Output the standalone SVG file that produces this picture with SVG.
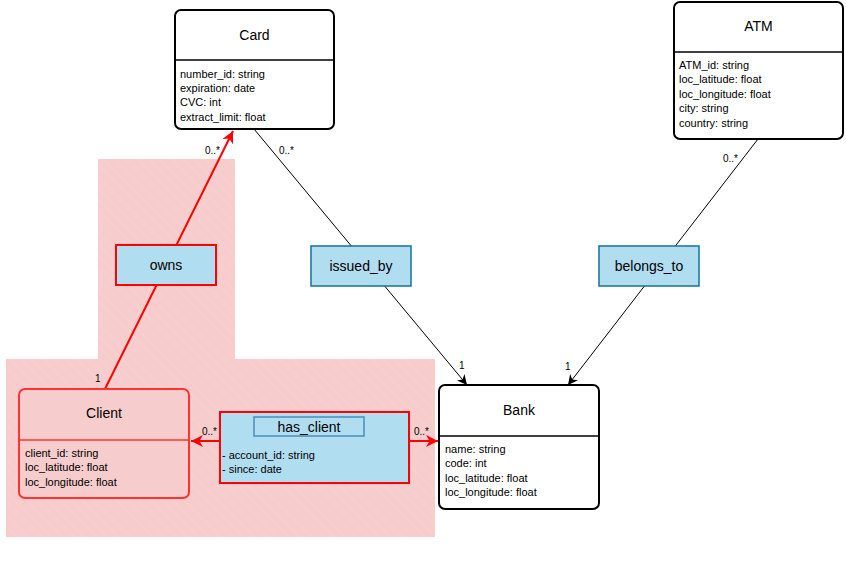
<svg xmlns="http://www.w3.org/2000/svg" width="846" height="581" viewBox="0 0 846 581">
  <style>
    text { font-family: "Liberation Sans", Arial, sans-serif; fill: #000; }
    .title { font-size: 14px; text-anchor: middle; }
    .attr { font-size: 11px; }
    .mult { font-size: 10px; }
    .cls { fill: #fff; stroke: #000; stroke-width: 2; }
    .div { stroke: #000; stroke-width: 1.5; }
    .assoc { fill: #b1ddf0; stroke: #10739e; stroke-width: 1.5; }
    .red-assoc { fill: #b1ddf0; stroke: #ff0000; stroke-width: 2; }
    .line { stroke: #000; stroke-width: 1; fill: none; }
    .red-line { stroke: #ff0000; stroke-width: 2; fill: none; }
  </style>
  <defs>
    <marker id="arrowBlack" viewBox="0 0 10 10" refX="10" refY="5" markerWidth="10" markerHeight="10" markerUnits="userSpaceOnUse" orient="auto">
      <path d="M0,0 L10,5 L0,10 L3,5 Z" fill="#000"/>
    </marker>
    <marker id="arrowRed" viewBox="0 0 10 10" refX="10" refY="5" markerWidth="12" markerHeight="12" markerUnits="userSpaceOnUse" orient="auto">
      <path d="M0,0 L10,5 L0,10 L3,5 Z" fill="#ff0000"/>
    </marker>
    <pattern id="hatch" width="8" height="8" patternUnits="userSpaceOnUse" patternTransform="rotate(-45)">
      <rect width="8" height="8" fill="#f6cdcc"/>
      <line x1="0" y1="0" x2="0" y2="8" stroke="#f8d4d3" stroke-width="1"/>
    </pattern>
  </defs>

  <!-- shaded customer area -->
  <path id="client-area" d="M98,159 H235 V359 H435 V537 H6 V359 H98 Z" fill="url(#hatch)"/>

  <!-- connectors -->
  <g id="connectors">
    <line class="red-line" x1="105" y1="389" x2="233" y2="131" marker-end="url(#arrowRed)"/>
    <line class="line" x1="254" y1="129" x2="467" y2="385" marker-end="url(#arrowBlack)"/>
    <line class="line" x1="758" y1="139" x2="568" y2="385" marker-end="url(#arrowBlack)"/>
    <line class="red-line" x1="220" y1="441" x2="191" y2="441" marker-end="url(#arrowRed)"/>
    <line class="red-line" x1="409" y1="441" x2="438" y2="441" marker-end="url(#arrowRed)"/>
    <text class="mult" x="220" y="154" text-anchor="end">0..*</text>
    <text class="mult" x="279" y="154">0..*</text>
    <text class="mult" x="738" y="162" text-anchor="end">0..*</text>
    <text class="mult" x="459" y="369">1</text>
    <text class="mult" x="565" y="370">1</text>
    <text class="mult" x="95" y="382">1</text>
    <text class="mult" x="217" y="435" text-anchor="end">0..*</text>
    <text class="mult" x="414" y="435">0..*</text>
  </g>

  <!-- Card -->
  <g id="card">
    <rect class="cls" x="175" y="10" width="159" height="119" rx="6"/>
    <line class="div" x1="175" y1="60" x2="334" y2="60"/>
    <text class="title" x="254.5" y="40">Card</text>
    <text class="attr" x="180" y="78">number_id: string</text>
    <text class="attr" x="180" y="92">expiration: date</text>
    <text class="attr" x="180" y="106">CVC: int</text>
    <text class="attr" x="180" y="121">extract_limit: float</text>
  </g>

  <!-- ATM -->
  <g id="atm">
    <rect class="cls" x="674" y="2" width="169" height="137" rx="6"/>
    <line class="div" x1="674" y1="52" x2="843" y2="52"/>
    <text class="title" x="758.5" y="31">ATM</text>
    <text class="attr" x="679" y="69">ATM_id: string</text>
    <text class="attr" x="679" y="83">loc_latitude: float</text>
    <text class="attr" x="679" y="98">loc_longitude: float</text>
    <text class="attr" x="679" y="112">city: string</text>
    <text class="attr" x="679" y="127">country: string</text>
  </g>

  <!-- Client -->
  <g id="client">
    <rect x="19" y="389" width="170" height="109" rx="6" fill="#f6cdcc" stroke="#ff3333" stroke-width="2"/>
    <line x1="19" y1="440" x2="189" y2="440" stroke="#ff3333" stroke-width="1.5"/>
    <text class="title" x="104" y="418">Client</text>
    <text class="attr" x="25" y="457">client_id: string</text>
    <text class="attr" x="25" y="471">loc_latitude: float</text>
    <text class="attr" x="25" y="486">loc_longitude: float</text>
  </g>

  <!-- Bank -->
  <g id="bank">
    <rect class="cls" x="439" y="385" width="160" height="124" rx="6"/>
    <line class="div" x1="439" y1="436" x2="599" y2="436"/>
    <text class="title" x="519" y="415">Bank</text>
    <text class="attr" x="445" y="453">name: string</text>
    <text class="attr" x="445" y="467">code: int</text>
    <text class="attr" x="445" y="482">loc_latitude: float</text>
    <text class="attr" x="445" y="496">loc_longitude: float</text>
  </g>

  <!-- association: owns -->
  <g id="owns">
    <rect class="red-assoc" x="116" y="245" width="100" height="40"/>
    <text class="title" x="166" y="270">owns</text>
  </g>

  <!-- association: issued_by -->
  <g id="issued-by">
    <rect class="assoc" x="311" y="246" width="100" height="40"/>
    <text class="title" x="361" y="271">issued_by</text>
  </g>

  <!-- association: belongs_to -->
  <g id="belongs-to">
    <rect class="assoc" x="599" y="246" width="100" height="40"/>
    <text class="title" x="649" y="271">belongs_to</text>
  </g>

  <!-- association class: has_client -->
  <g id="has-client">
    <rect class="red-assoc" x="220" y="412" width="189" height="71"/>
    <rect x="254" y="417" width="110" height="19" fill="#b1ddf0" stroke="#4a8db8" stroke-width="1.5"/>
    <text class="title" x="309" y="432">has_client</text>
    <text class="attr" x="222" y="459">- account_id: string</text>
    <text class="attr" x="222" y="473">- since: date</text>
  </g>
</svg>
